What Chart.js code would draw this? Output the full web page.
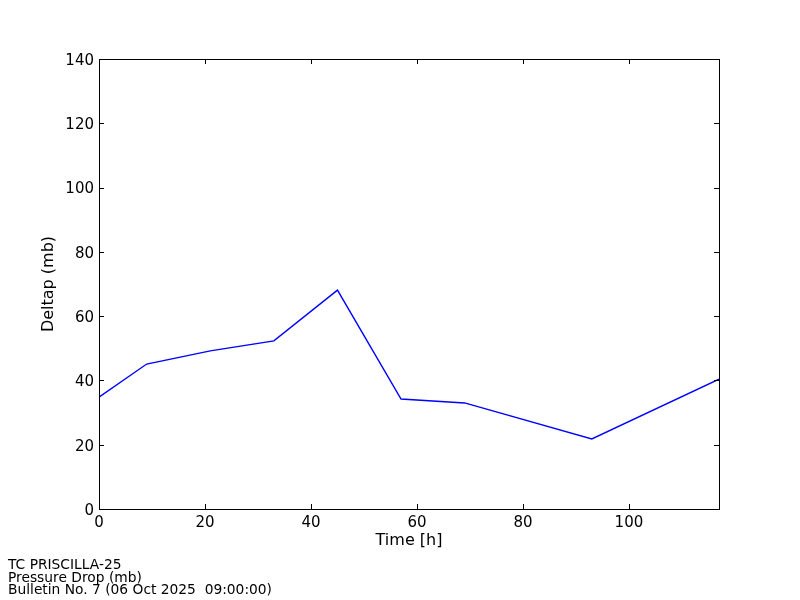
<!DOCTYPE html>
<html>
<head>
<meta charset="utf-8">
<script src="https://cdn.jsdelivr.net/npm/chart.js@4.4.1/dist/chart.umd.min.js"></script>
<style>
html,body{margin:0;padding:0;background:#fff;}
#wrap{width:800px;height:600px;position:relative;}
</style>
</head>
<body>
<div id="wrap"><canvas id="c" width="800" height="600"></canvas></div>
<script>
const timeHours = [0, 9, 21, 33, 45, 57, 69, 93, 117];
const deltap = [34.8, 45.1, 49.2, 52.3, 68.1, 34.2, 33.0, 21.8, 40.4];
const xTicks = [0, 20, 40, 60, 80, 100];
const yTicks = [0, 20, 40, 60, 80, 100, 120, 140];
const footerLines = ['TC PRISCILLA-25', 'Pressure Drop (mb)', 'Bulletin No. 7 (06 Oct 2025  09:00:00)'];

const FONT = '"DejaVu Sans", sans-serif';

const frameTicks = {
  id: 'frameTicks',
  afterDraw(chart) {
    const {ctx, chartArea: a, scales: {x, y}} = chart;
    ctx.save();
    ctx.strokeStyle = '#000';
    ctx.lineWidth = 1;
    ctx.strokeRect(Math.round(a.left) + 0.5, Math.round(a.top) + 0.5, Math.round(a.right - a.left), Math.round(a.bottom - a.top));
    const L = 5;
    ctx.beginPath();
    xTicks.forEach(v => {
      const px = Math.round(x.getPixelForValue(v)) + 0.5;
      ctx.moveTo(px, a.bottom); ctx.lineTo(px, a.bottom - L);
      ctx.moveTo(px, a.top); ctx.lineTo(px, a.top + L);
    });
    yTicks.forEach(v => {
      const py = Math.round(y.getPixelForValue(v)) + 0.5;
      ctx.moveTo(a.left, py); ctx.lineTo(a.left + L, py);
      ctx.moveTo(a.right, py); ctx.lineTo(a.right - L, py);
    });
    ctx.stroke();
    ctx.fillStyle = '#000';
    ctx.font = '13.8px ' + FONT;
    ctx.textBaseline = 'alphabetic';
    ctx.textAlign = 'left';
    footerLines.forEach((t, i) => ctx.fillText(t, 8, 569 + i * 12.5));
    ctx.restore();
  }
};

new Chart(document.getElementById('c'), {
  type: 'line',
  data: {
    datasets: [{
      data: timeHours.map((t, i) => ({x: t, y: deltap[i]})),
      borderColor: '#0000ff',
      borderWidth: 1.4,
      pointRadius: 0,
      tension: 0,
      fill: false
    }]
  },
  options: {
    responsive: false,
    animation: false,
    layout: {padding: {left: 39, right: 81, top: 59, bottom: 50}},
    plugins: {legend: {display: false}, tooltip: {enabled: false}},
    scales: {
      x: {
        type: 'linear', min: 0, max: 117,
        afterBuildTicks: s => { s.ticks = xTicks.map(v => ({value: v})); },
        afterFit: s => { s.height = 41; },
        grid: {display: false, drawTicks: false},
        border: {display: false},
        ticks: {color: '#000', font: {family: FONT, size: 15}, padding: 5, maxRotation: 0},
        title: {display: true, text: 'Time [h]', color: '#000', font: {family: FONT, size: 16}, padding: {top: 0, bottom: 0}}
      },
      y: {
        type: 'linear', min: 0, max: 140,
        afterBuildTicks: s => { s.ticks = yTicks.map(v => ({value: v})); },
        afterFit: s => { s.width = 60; },
        grid: {display: false, drawTicks: false},
        border: {display: false},
        ticks: {color: '#000', font: {family: FONT, size: 15}, padding: 5, labelOffset: 2},
        title: {display: true, text: 'Deltap (mb)', color: '#000', font: {family: FONT, size: 16}, padding: {top: 0, bottom: 0}}
      }
    }
  },
  plugins: [frameTicks]
});
</script>
</body>
</html>
